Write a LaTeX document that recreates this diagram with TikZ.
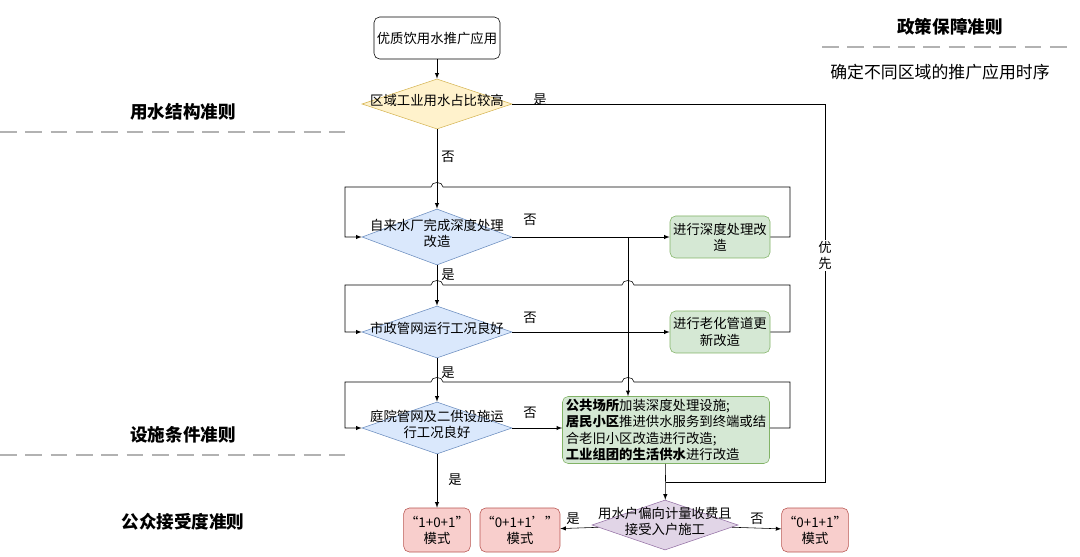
\documentclass[tikz,border=0pt]{standalone}
\usepackage{fontspec}
\setmainfont{Noto Sans CJK SC}
\usetikzlibrary{shapes.geometric}
\definecolor{yfill}{HTML}{FFF2CC}\definecolor{yline}{HTML}{D6B656}
\definecolor{bfill}{HTML}{DAE8FC}\definecolor{bline}{HTML}{6C8EBF}
\definecolor{gfill}{HTML}{D5E8D4}\definecolor{gline}{HTML}{82B366}
\definecolor{rfill}{HTML}{F8CECC}\definecolor{rline}{HTML}{B85450}
\definecolor{pfill}{HTML}{E1D5E7}\definecolor{pline}{HTML}{9673A6}
\newcommand{\dtext}[1]{\makebox[0pt]{\raisebox{-0.35ex}{\smash{\begin{tabular}[c]{@{}c@{}}#1\end{tabular}}}}}
\tikzset{
  every node/.style={font=\fontsize{9.5}{11.5}\selectfont},
  dec/.style={diamond, draw, inner sep=0pt, minimum width=150*0.025cm, minimum height=52*0.025cm},
  box/.style={draw, rounded corners=4pt, align=center, inner sep=1pt},
  act/.style={box, fill=gfill, draw=gline, minimum width=100*0.025cm, minimum height=42*0.025cm},
  mode/.style={box, fill=rfill, draw=rline, minimum width=66*0.025cm, minimum height=44*0.025cm},
  title/.style={font=\fontsize{12.5}{14}\selectfont\bfseries},
  rule/.style={gray!60, line width=1.2pt, dash pattern=on 12pt off 6pt},
  lbl/.style={inner sep=1pt},
  flow/.style={-latex, thin},
}
\begin{document}
\begin{tikzpicture}[x=0.025cm, y=-0.025cm]
\useasboundingbox (0,0) rectangle (1080,557);
% left and right rules
\node[title] (r1) at (183,112) {用水结构准则};
\node[title] (r2) at (183,435) {设施条件准则};
\node[title] (r3) at (183,522) {公众接受度准则};
\node[title] (r4) at (950,27) {政策保障准则};
\node[font=\fontsize{12}{14}\selectfont] (r5) at (940,72) {确定不同区域的推广应用时序};
\draw[rule] (0,132) -- (345,132);
\draw[rule] (0,455) -- (345,455);
\draw[rule] (822,47) -- (1068,47);

\node[box, minimum width=126*0.025cm, minimum height=42*0.025cm] (start) at (437,38) {优质饮用水推广应用};
\node[dec, fill=yfill, draw=yline, minimum height=50*0.025cm] (d1) at (437,104) {\dtext{区域工业用水占比较高}};
\node[dec, fill=bfill, draw=bline, minimum height=56*0.025cm] (d2) at (437,237) {\dtext{自来水厂完成深度处理\\改造}};
\node[dec, fill=bfill, draw=bline] (d3) at (437,332) {\dtext{市政管网运行工况良好}};
\node[dec, fill=bfill, draw=bline] (d4) at (437,428) {\dtext{庭院管网及二供设施运\\行工况良好}};
\node[act] (g1) at (720,237) {进行深度处理改\\造};
\node[act] (g2) at (720,332) {进行老化管道更\\新改造};
\node[act, align=left, minimum width=207*0.025cm, minimum height=67*0.025cm] (g3) at (666,430)
  {\textbf{公共场所}加装深度处理设施;\\\textbf{居民小区}推进供水服务到终端或结\\合老旧小区改造进行改造;\\\textbf{工业组团的生活供水}进行改造};
\node[dec, fill=pfill, draw=pline, minimum width=146*0.025cm, minimum height=50*0.025cm] (d5) at (665,525) {\dtext{用水户偏向计量收费且\\接受入户施工}};
\node[mode] (m1) at (437,530) {“1+0+1”\\模式};
\node[mode] (m2) at (520,530) {“0+1+1’”\\模式};
\node[mode] (m3) at (815,530) {“0+1+1”\\模式};
\coordinate (split) at (628,237);
\coordinate (join) at (666,482);

% main flow
\draw[flow] (start) -- (d1);
\draw[flow] (d1) -- (d2);
\draw[flow] (d2) -- (d3);
\draw[flow] (d3) -- (d4);
\draw[flow] (d4) -- (m1);
\draw[flow] (d2) -- (g1);
\draw[flow] (d3) -- (g2);
\draw[flow] (d4) -- (d4 -| g3.west);
\draw[flow] (d5) -- (m2);
\draw[flow] (d5) -- (m3);
\draw[flow] (g3) -- (d5);
\draw[flow] (split) -- (split |- g3.north);
% loops
\draw[flow] (g1.east) -- (790,237) -- (790,187) -- (443,187)
  .. controls (443,181) and (431,181) .. (431,187) -- (345,187) -- (345,237) -- (d2.west);
\draw[flow] (g2.east) -- (790,332) -- (790,285) -- (634,285)
  .. controls (634,279) and (622,279) .. (622,285) -- (443,285)
  .. controls (443,279) and (431,279) .. (431,285) -- (345,285) -- (345,332) -- (d3.west);
\draw[flow] (d4 -| g3.east) -- (790,428) -- (790,382) -- (634,382)
  .. controls (634,376) and (622,376) .. (622,382) -- (443,382)
  .. controls (443,376) and (431,376) .. (431,382) -- (345,382) -- (345,428) -- (d4.west);
% priority
\draw (d1.east) -- (825,104) -- node[fill=white, lbl, align=center, pos=0.4] {优\\先} (825,482) -- (join);

% labels
\node[lbl] (y1) at (540,100) {是};
\node[lbl] (n1) at (448,157) {否};
\node[lbl] (n2) at (530,220) {否};
\node[lbl] (y2) at (448,275) {是};
\node[lbl] (n3) at (530,318) {否};
\node[lbl] (y3) at (448,373) {是};
\node[lbl] (n4) at (530,413) {否};
\node[lbl] (y4) at (455,480) {是};
\node[lbl] (y5) at (573,519) {是};
\node[lbl] (n5) at (757,519) {否};
\end{tikzpicture}
\end{document}
